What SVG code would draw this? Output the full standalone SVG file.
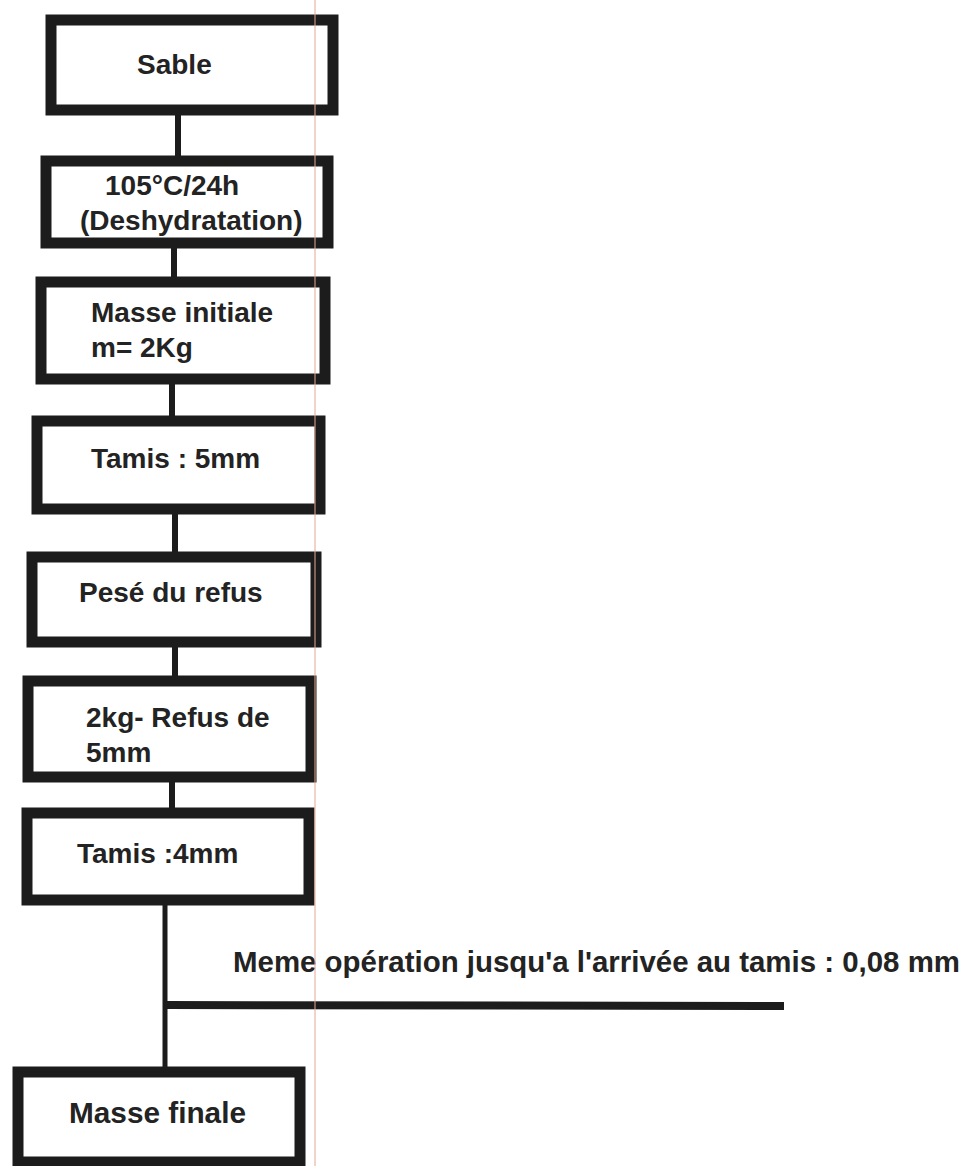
<svg xmlns="http://www.w3.org/2000/svg" width="967" height="1166" viewBox="0 0 967 1166">
<style>
.box{fill:#ffffff;stroke:#1c1c1c;stroke-width:11}
.lbl{font-family:"Liberation Sans",Arial,sans-serif;font-weight:bold;font-size:28px;fill:#232323}
.cond{font-family:"Liberation Sans",Arial,sans-serif;font-weight:bold;font-size:29px;fill:#232323}
.conn{stroke:#1c1c1c;stroke-width:6;fill:none}
</style>
<rect x="0" y="0" width="967" height="1166" fill="#ffffff"/>
<g id="connectors">
<line class="conn" x1="178" y1="115" x2="178" y2="156"/>
<line class="conn" x1="174" y1="248" x2="174" y2="277"/>
<line class="conn" x1="172" y1="384" x2="172" y2="416"/>
<line class="conn" x1="175" y1="514" x2="175" y2="552"/>
<line class="conn" x1="175" y1="647" x2="175" y2="676"/>
<line class="conn" x1="172" y1="782" x2="172" y2="808"/>
<line class="conn" x1="165" y1="905" x2="165" y2="1067" style="stroke-width:5"/>
<line class="conn" x1="167" y1="1005" x2="784" y2="1006" style="stroke-width:8"/>
</g>
<g id="n1"><rect class="box" x="51" y="20" width="282" height="90"/><text class="lbl" x="137" y="74">Sable</text></g>
<g id="n2"><rect class="box" x="46" y="161" width="282" height="82"/><text class="lbl" x="105" y="195">105°C/24h</text><text class="lbl" x="80" y="230">(Deshydratation)</text></g>
<g id="n3"><rect class="box" x="41" y="282" width="284" height="97"/><text class="lbl" x="91" y="322">Masse initiale</text><text class="lbl" x="91" y="357">m= 2Kg</text></g>
<g id="n4"><rect class="box" x="37" y="421" width="283" height="88"/><text class="lbl" x="91" y="468">Tamis : 5mm</text></g>
<g id="n5"><rect class="box" x="32" y="557" width="284" height="85"/><text class="lbl" x="79" y="602">Pesé du refus</text></g>
<g id="n6"><rect class="box" x="28" y="681" width="283" height="96"/><text class="lbl" x="86" y="727">2kg- Refus de</text><text class="lbl" x="86" y="762">5mm</text></g>
<g id="n7"><rect class="box" x="27" y="813" width="282" height="87"/><text class="lbl" x="77" y="863">Tamis :4mm</text></g>
<g id="note"><text class="cond" x="233" y="972" textLength="727" lengthAdjust="spacingAndGlyphs">Meme opération jusqu'a l'arrivée au tamis : 0,08 mm</text></g>
<g id="n8"><rect class="box" x="18" y="1072" width="282" height="90"/><text class="cond" x="69" y="1123" textLength="177" lengthAdjust="spacingAndGlyphs">Masse finale</text></g>
<line x1="315" y1="0" x2="315" y2="1166" stroke="#e6a896" stroke-width="1"/>
</svg>
